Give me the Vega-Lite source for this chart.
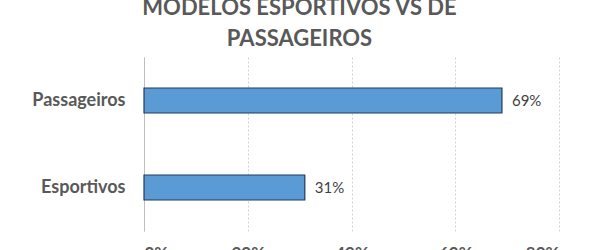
{
  "$schema": "https://vega.github.io/schema/vega-lite/v6.json",
  "autosize": {"type": "none"},
  "width": 415,
  "height": 174,
  "padding": {"left": 144, "top": 57, "right": 41, "bottom": 19},
  "background": "white",
  "title": {
    "text": ["MODELOS ESPORTIVOS VS DE", "PASSAGEIROS"],
    "anchor": "middle",
    "frame": "group",
    "dx": -52,
    "offset": 6,
    "font": "Lato",
    "fontSize": 22,
    "fontWeight": "bold",
    "color": "#595959",
    "lineHeight": 31
  },
  "data": {
    "values": [
      {"tipo": "Passageiros", "pct": 0.69},
      {"tipo": "Esportivos", "pct": 0.31}
    ]
  },
  "encoding": {
    "y": {
      "field": "tipo",
      "type": "nominal",
      "sort": ["Passageiros", "Esportivos"],
      "title": null,
      "axis": {
        "ticks": false,
        "domain": true,
        "domainColor": "#bfbfbf",
        "domainWidth": 1,
        "labelFont": "Lato",
        "labelFontSize": 18,
        "labelFontWeight": "bold",
        "labelColor": "#595959",
        "labelPadding": 19
      }
    },
    "x": {
      "field": "pct",
      "type": "quantitative",
      "scale": {"domain": [0, 0.8], "nice": false},
      "title": null,
      "axis": {
        "values": [0, 0.2, 0.4, 0.6, 0.8],
        "format": ".0%",
        "domain": false,
        "ticks": false,
        "grid": true,
        "gridColor": "#d0d0d0",
        "gridDash": [2, 2],
        "gridWidth": 1,
        "labelFont": "Lato",
        "labelFontSize": 17,
        "labelFontWeight": "bold",
        "labelColor": "#595959",
        "labelPadding": 14,
        "labelBaseline": "top"
      }
    }
  },
  "layer": [
    {
      "mark": {"type": "bar", "size": 25, "fill": "#5b9bd5", "stroke": "#23395d", "strokeWidth": 1.2}
    },
    {
      "mark": {"type": "text", "align": "left", "baseline": "middle", "dx": 10, "font": "Lato", "fontSize": 15, "color": "#404040"},
      "encoding": {"text": {"field": "pct", "type": "quantitative", "format": ".0%"}}
    }
  ],
  "config": {"view": {"stroke": null}}
}
